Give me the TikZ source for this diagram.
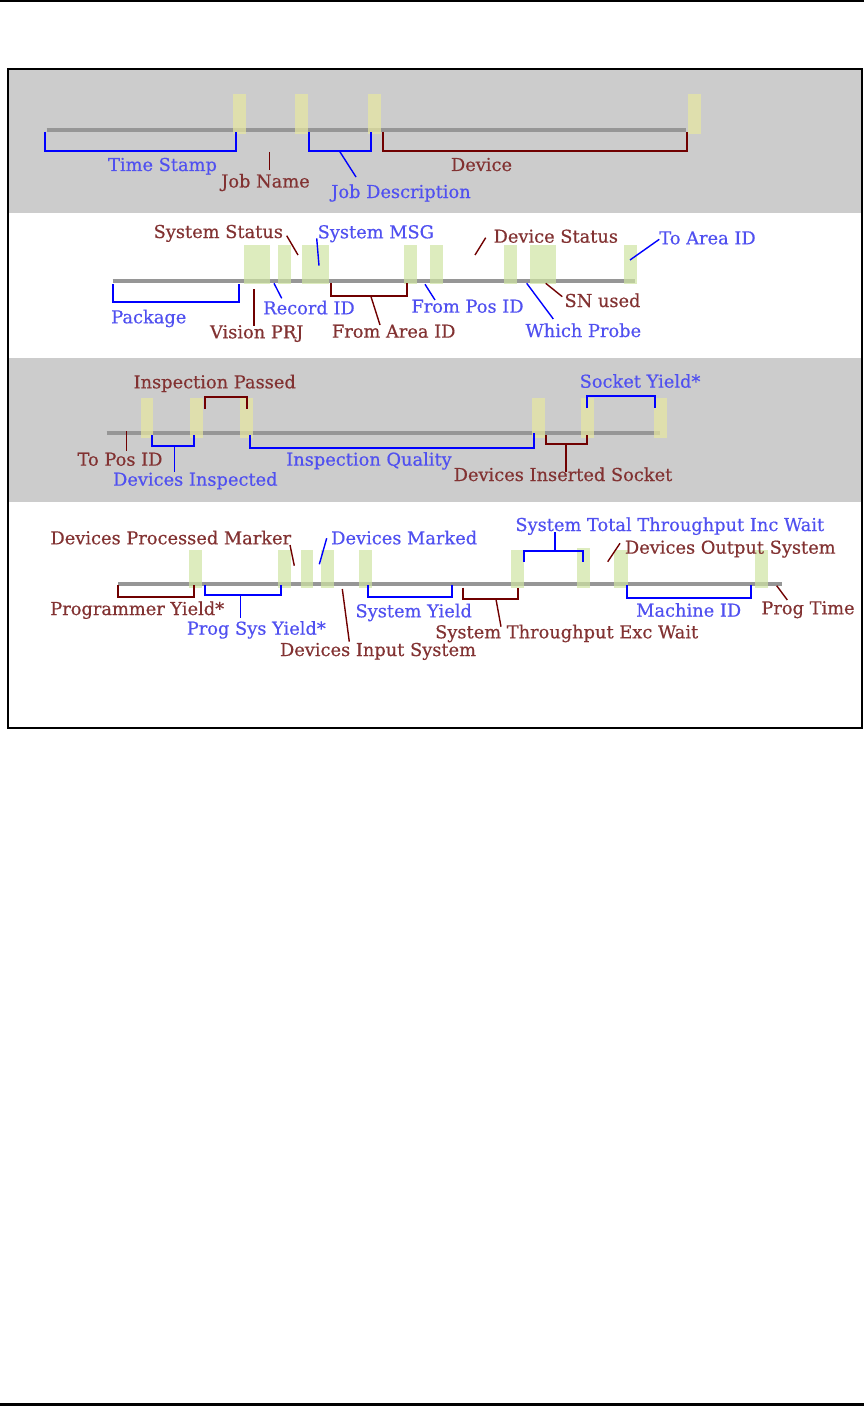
\documentclass[tikz,border=0pt]{standalone}
\usepackage{fontspec}
\setmainfont{DejaVu Serif}
\newfontfamily\lblfont{DejaVu Serif}[RawFeature={embolden=0.5}]
\definecolor{bandgray}{RGB}{204,204,204}
\definecolor{linegray}{RGB}{150,150,150}
\definecolor{bracketblue}{RGB}{0,0,255}
\definecolor{bracketred}{RGB}{112,0,0}
\definecolor{textblue}{RGB}{80,80,240}
\definecolor{textred}{RGB}{130,50,50}
\definecolor{baryellow}{RGB}{232,232,160}
\definecolor{bargreen}{RGB}{206,228,162}
\begin{document}
\begin{tikzpicture}[x=1pt,y=-1pt,
  lbl/.style={font=\lblfont\fontsize{17.8}{20}\selectfont, inner sep=0pt, anchor=base},
  bl/.style={lbl,text=textblue},
  rl/.style={lbl,text=textred},
  bbr/.style={draw=bracketblue, line width=2pt},
  rbr/.style={draw=bracketred, line width=2pt},
  bptr/.style={draw=bracketblue, line width=1.4pt},
  rptr/.style={draw=bracketred, line width=1.4pt},
  rtick/.style={draw=bracketred, line width=1pt},
  barY/.style={fill=baryellow, fill opacity=0.7},
  barG/.style={fill=bargreen, fill opacity=0.7},
  timeline/.style={draw=linegray, line width=3.8pt}]
\useasboundingbox (0,0) rectangle (864,1407);
% page rules
\fill[black] (0,0) rectangle (864,2.3);
\fill[black] (0,1403.3) rectangle (864,1405.7);
% bands and frame
\fill[bandgray] (8,69) rectangle (862,213);
\fill[bandgray] (8,358) rectangle (862,502);
\draw[line width=1.5pt] (8,69) rectangle (862,728);

% ===== Band 1 =====
\draw[timeline] (46.7,129.7) coordinate (t1a) -- (686,129.7) coordinate (t1b);
\foreach \a/\b in {233/246, 294.5/307.7, 368/381, 688/701}
  \fill[barY] (\a,94) rectangle (\b,134);
\draw[bbr] (45.4,132) -- (45.4,151) -- (235.5,151) -- (235.5,132);
\node[bl] (ts) at (162.5,171) {Time Stamp};
\draw[rtick] (269,152) coordinate (jnA) -- (269,170) coordinate (jnB);
\node[rl] (jn) at (265.5,187.5) {Job Name};
\draw[bbr] (308.6,132) -- (308.6,151) -- (371,151) -- (371,132);
\draw[bptr] (339.4,151) coordinate (jdA) -- (356,177) coordinate (jdB);
\node[bl] (jd) at (401,198) {Job Description};
\draw[rbr] (383.4,132) -- (383.4,151) -- (687,151) -- (687,132);
\node[rl] (dev) at (481.5,171) {Device};

% ===== Band 2 =====
\draw[timeline] (112.7,281) coordinate (t2a) -- (635,281) coordinate (t2b);
\foreach \a/\b in {244/270, 278.3/291, 302.3/328.7, 404/416.7, 430/443.3, 504/516.7, 530/556, 624/636.7}
  \fill[barG] (\a,245) rectangle (\b,284.3);
\draw[bbr] (112.7,284) -- (112.7,301.7) -- (238.7,301.7) -- (238.7,284);
\node[bl] (pkg) at (148.8,323.3) {Package};
\draw[rptr] (254,289) coordinate (vpA) -- (254,326) coordinate (vpB);
\node[rl] (vp) at (256.7,338.3) {Vision PRJ};
\draw[bptr] (274,283.3) coordinate (riA) -- (281.7,298.3) coordinate (riB);
\node[bl] (ri) at (309,314.3) {Record ID};
\draw[rptr] (286.7,235.7) coordinate (ssA) -- (298,255) coordinate (ssB);
\node[rl] (ss) at (218.3,238) {System Status};
\draw[bptr] (316.7,238.3) coordinate (smA) -- (319,265.7) coordinate (smB);
\node[bl] (sm) at (375.8,238.3) {System MSG};
\draw[rbr] (331,283) -- (331,295.7) -- (406.7,295.7) -- (406.7,283);
\draw[rptr] (370.7,295.7) coordinate (faA) -- (380,325) coordinate (faB);
\node[rl] (fa) at (393.7,337.7) {From Area ID};
\draw[bptr] (425,284.3) coordinate (fpA) -- (435,300) coordinate (fpB);
\node[bl] (fp) at (467.5,312.7) {From Pos ID};
\draw[rptr] (475,255) coordinate (dsA) -- (485.7,237.7) coordinate (dsB);
\node[rl] (ds) at (555.8,242.7) {Device Status};
\draw[bptr] (526.7,283.3) coordinate (wpA) -- (553.3,319) coordinate (wpB);
\node[bl] (wp) at (583.3,337) {Which Probe};
\draw[rptr] (545.7,283.3) coordinate (snA) -- (562.3,296.7) coordinate (snB);
\node[rl] (sn) at (602.5,307) {SN used};
\draw[bptr] (630,260) coordinate (taA) -- (659.3,239.3) coordinate (taB);
\node[bl] (ta) at (707.5,244.3) {To Area ID};

% ===== Band 3 =====
\draw[timeline] (106.7,433) coordinate (t3a) -- (660,433) coordinate (t3b);
\foreach \a/\b in {140.7/153.3, 190/202.7, 240/252.7, 531.7/545, 581/594, 654/666.7}
  \fill[barY] (\a,398) rectangle (\b,437.7);
\draw[rptr] (126.7,431) coordinate (tpA) -- (126.7,451) coordinate (tpB);
\node[rl] (tp) at (120,465.7) {To Pos ID};
\draw[bbr] (152.3,435) -- (152.3,445.7) -- (194.3,445.7) -- (194.3,435);
\draw[bptr] (174.3,445.7) coordinate (diA) -- (174.3,471.7) coordinate (diB);
\node[bl] (di) at (195.3,485.7) {Devices Inspected};
\draw[rbr] (205,409) -- (205,397.3) -- (247.3,397.3) -- (247.3,409);
\node[rl] (ip) at (214.7,388.3) {Inspection Passed};
\draw[bbr] (250,435) -- (250,448.3) -- (534.3,448.3) -- (534.3,433);
\node[bl] (iq) at (369,465.7) {Inspection Quality};
\draw[rbr] (545.7,435) -- (545.7,444.3) -- (586.7,444.3) -- (586.7,435);
\draw[rptr] (566,444.3) coordinate (isA) -- (566,471.7) coordinate (isB);
\node[rl] (is) at (563,481) {Devices Inserted Socket};
\draw[bbr] (586.7,407.7) -- (586.7,396) -- (655.3,396) -- (655.3,407.7);
\node[bl] (sy) at (640,387.7) {Socket Yield*};

% ===== Band 4 =====
\draw[timeline] (118.3,584) coordinate (t4a) -- (781.7,584) coordinate (t4b);
\foreach \a/\b in {189.3/202.3, 278.3/291, 300.7/313.3, 321/334, 359.3/372.3, 511/524, 614.3/627.7, 755/768.3}
  \fill[barG] (\a,550) rectangle (\b,588.3);
\fill[barG] (576.7,547.7) rectangle (590,587.7);
\draw[rbr] (118.3,585) -- (118.3,596.7) -- (194.3,596.7) -- (194.3,585);
\node[rl] (py) at (137.2,615) {Programmer Yield*};
\draw[bbr] (205,585) -- (205,595) -- (280.7,595) -- (280.7,585);
\draw[bptr] (240.7,595) coordinate (psA) -- (240.7,617.7) coordinate (psB);
\node[bl] (ps) at (256.3,634.7) {Prog Sys Yield*};
\draw[rptr] (290,545) coordinate (dpA) -- (294.3,565.7) coordinate (dpB);
\node[rl] (dp) at (170.8,544.3) {Devices Processed Marker};
\draw[bptr] (326.7,538.3) coordinate (dmA) -- (319.3,564.3) coordinate (dmB);
\node[bl] (dm) at (404.2,544.3) {Devices Marked};
\draw[rptr] (342.3,589) coordinate (dinA) -- (349.3,641.7) coordinate (dinB);
\node[rl] (din) at (378,656) {Devices Input System};
\draw[bbr] (368.3,585) -- (368.3,596.7) -- (452.3,596.7) -- (452.3,585);
\node[bl] (syl) at (413.7,617.3) {System Yield};
\draw[rbr] (462.7,587.7) -- (462.7,599.3) -- (518.3,599.3) -- (518.3,587.7);
\draw[rptr] (496,599.3) coordinate (steA) -- (501,626.7) coordinate (steB);
\node[rl] (ste) at (566.7,638.3) {System Throughput Exc Wait};
\draw[bbr] (524.3,561.7) -- (524.3,551) -- (583.3,551) -- (583.3,561.7);
\draw[bptr] (555,551) coordinate (sttA) -- (555,532.3) coordinate (sttB);
\node[bl] (stt) at (669.8,531) {System Total Throughput Inc Wait};
\draw[rptr] (607.7,561.7) coordinate (dosA) -- (620,543.3) coordinate (dosB);
\node[rl] (dos) at (730.3,553.7) {Devices Output System};
\draw[bbr] (626.7,585) -- (626.7,598.3) -- (751,598.3) -- (751,585);
\node[bl] (mid) at (688.7,616.7) {Machine ID};
\draw[rptr] (776.7,585.7) coordinate (ptA) -- (787.3,600) coordinate (ptB);
\node[rl] (pt) at (808,614.3) {Prog Time};
\end{tikzpicture}
\end{document}
